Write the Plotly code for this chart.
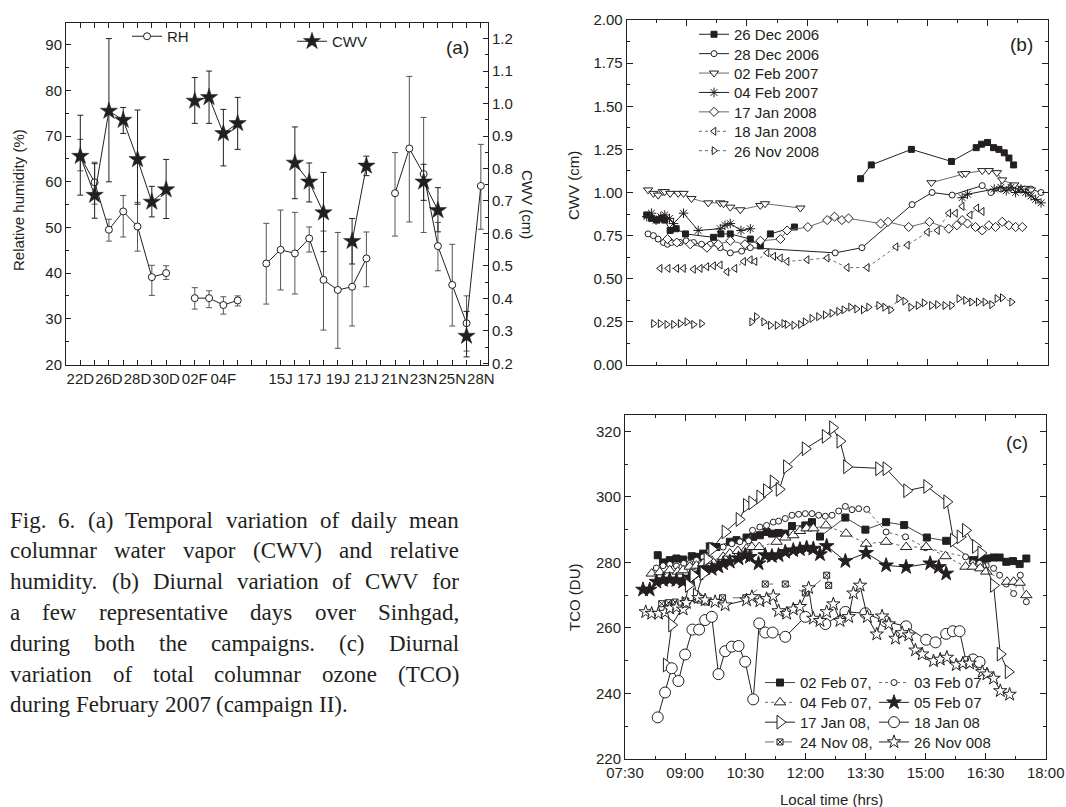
import plotly.graph_objects as go

# ------------------------------------------------------------------
# Panel (a): daily mean RH (left axis) and CWV (right axis)
# ------------------------------------------------------------------
day_index = list(range(1, 30))
day_ticks = [1, 3, 5, 7, 9, 11, 15, 17, 19, 21, 23, 25, 27, 29]
day_labels = ["22D", "26D", "28D", "30D", "02F", "04F", "15J", "17J",
              "19J", "21J", "21N", "23N", "25N", "28N"]

rh_mean = [65.5, 59.9, 49.5, 53.5, 50.2, 39.1, 40.0, None,
           34.5, 34.5, 33.0, 34.0, None,
           42.1, 45.1, 44.3, 47.6, 38.5, 36.3, 37.0, 43.2, None,
           57.5, 67.3, 61.7, 45.9, 37.4, 29.0, 59.1]
rh_err_plus = [3.8, 4.4, 2.3, 3.5, 5.3, 2.6, 1.6, 0,
               2.3, 1.6, 1.8, 1.0, 0,
               8.8, 8.7, 9.0, 2.5, 10.7, 12.6, 9.1, 5.8, 0,
               8.9, 15.8, 12.4, 5.2, 8.9, 6.0, 9.1]
rh_err_minus = [3.1, 4.8, 2.5, 5.6, 5.4, 4.0, 1.4, 0,
                2.4, 2.1, 2.0, 1.2, 0,
                8.9, 8.8, 8.9, 3.0, 11.0, 12.8, 8.6, 6.2, 0,
                9.4, 16.1, 12.8, 5.4, 9.0, 6.1, 9.5]

cwv_mean = [0.838, 0.718, 0.977, 0.949, 0.828, 0.697, 0.735, None,
            1.008, 1.019, 0.908, 0.939, None,
            None, None, 0.817, 0.759, 0.664, None, 0.576, 0.808, None,
            None, None, 0.759, 0.671, None, 0.284, None]
cwv_err_plus = [0.126, 0.097, 0.223, 0.039, 0.152, 0.048, 0.093, 0,
                0.072, 0.081, 0.074, 0.080, 0,
                0, 0, 0.111, 0.058, 0.124, 0, 0.070, 0.030, 0,
                0, 0, 0.054, 0.070, 0, 0.076, 0]
cwv_err_minus = [0.120, 0.071, 0.218, 0.041, 0.138, 0.046, 0.089, 0,
                 0.069, 0.080, 0.100, 0.080, 0,
                 0, 0, 0.110, 0.062, 0.120, 0, 0.070, 0.030, 0,
                 0, 0, 0.057, 0.066, 0, 0.064, 0]

# ------------------------------------------------------------------
# Panel (b): diurnal CWV (cm), (local time, value)
# ------------------------------------------------------------------
cwv_26dec2006 = [("08:00", 0.87), ("08:07", 0.85), ("08:15", 0.84), ("08:22", 0.85),
                 ("08:27", 0.84), ("08:35", 0.78), ("08:44", 0.79), ("08:58", 0.76),
                 ("09:40", 0.74), ("09:51", 0.76), ("10:05", 0.76), ("10:35", 0.73),
                 ("10:50", 0.69), ("11:05", 0.76), ("11:41", 0.80), (None, None),
                 ("13:20", 1.08), ("13:36", 1.16), ("14:36", 1.25), ("15:36", 1.18),
                 ("16:13", 1.26), ("16:21", 1.28), ("16:30", 1.29), ("16:39", 1.26),
                 ("16:47", 1.25), ("16:55", 1.23), ("17:02", 1.20), ("17:09", 1.16)]
cwv_28dec2006 = [("08:02", 0.76), ("08:10", 0.75), ("08:17", 0.73), ("08:25", 0.71),
                 ("08:31", 0.70), ("08:37", 0.71), ("08:50", 0.71), ("08:59", 0.72),
                 ("09:10", 0.71), ("09:22", 0.70), ("09:35", 0.70), ("09:50", 0.68),
                 ("10:05", 0.65), ("10:22", 0.66), ("10:35", 0.68), ("12:42", 0.65),
                 ("13:22", 0.68), ("14:37", 0.93), ("15:07", 1.00), ("15:37", 0.985),
                 ("16:22", 1.04), ("16:35", 1.00), ("16:50", 1.02), ("17:05", 1.03),
                 ("17:20", 1.02), ("17:35", 1.02), ("17:50", 1.00)]
cwv_02feb2007 = [("08:02", 1.015), ("08:10", 0.995), ("08:17", 0.985), ("08:24", 1.005),
                 ("08:27", 1.005), ("08:35", 0.995), ("08:47", 0.995), ("08:55", 0.995),
                 ("09:07", 0.965), ("09:32", 0.94), ("09:50", 0.94), ("09:55", 0.935),
                 ("10:05", 0.915), ("10:20", 0.90), ("10:50", 0.925), ("10:57", 0.935),
                 ("11:50", 0.91), (None, None),
                 ("15:06", 1.057), ("15:52", 1.108), ("15:57", 1.11), ("16:22", 1.127),
                 ("16:32", 1.127), ("16:44", 1.115), ("16:52", 1.073), ("17:10", 1.044),
                 ("17:25", 1.024), ("17:35", 1.015)]
cwv_04feb2007 = [("08:00", 0.86), ("08:07", 0.88), ("08:14", 0.84), ("08:21", 0.86),
                 ("08:27", 0.87), ("08:34", 0.85), ("08:40", 0.82), ("08:55", 0.88),
                 ("09:17", 0.78), ("09:50", 0.79), ("09:57", 0.81), ("10:05", 0.82),
                 ("10:21", 0.78), ("10:35", 0.79), (None, None),
                 ("15:52", 0.97), ("16:00", 0.99), ("16:40", 1.02), ("16:50", 1.03),
                 ("16:58", 1.01), ("17:05", 1.03), ("17:12", 1.00), ("17:20", 1.02),
                 ("17:27", 1.00), ("17:35", 0.98), ("17:42", 0.96), ("17:50", 0.94)]
cwv_17jan2008 = [("08:31", 0.73), ("08:45", 0.71), ("09:05", 0.70), ("09:30", 0.68),
                 ("09:47", 0.70), ("10:05", 0.72), ("10:27", 0.70), ("10:50", 0.72),
                 ("11:20", 0.73), ("11:30", 0.78), ("12:01", 0.80), ("12:30", 0.84),
                 ("12:41", 0.86), ("12:52", 0.84), ("13:02", 0.85), ("13:50", 0.82),
                 ("14:01", 0.83), ("14:32", 0.80), ("15:03", 0.83), ("15:32", 0.79),
                 ("15:44", 0.81), ("15:52", 0.84), ("16:00", 0.82), ("16:12", 0.80),
                 ("16:22", 0.78), ("16:32", 0.81), ("16:42", 0.80), ("16:52", 0.83),
                 ("17:02", 0.81), ("17:12", 0.80), ("17:22", 0.80)]
cwv_18jan2008 = [("08:20", 0.56), ("08:32", 0.56), ("08:45", 0.56), ("08:55", 0.56),
                 ("09:10", 0.555), ("09:20", 0.56), ("09:30", 0.57), ("09:40", 0.575),
                 ("09:50", 0.58), ("10:00", 0.54), ("10:12", 0.56), ("10:25", 0.60),
                 ("10:35", 0.61), ("10:42", 0.60), ("11:00", 0.65), ("11:10", 0.63),
                 ("11:20", 0.62), ("11:30", 0.60), ("12:00", 0.61), ("12:30", 0.62),
                 ("13:00", 0.565), ("13:30", 0.565), ("14:13", 0.685), ("14:30", 0.695),
                 ("15:00", 0.77), ("15:15", 0.78), ("15:32", 0.88), ("15:42", 0.88),
                 ("15:52", 0.92), ("16:04", 0.87), ("16:14", 0.91), ("16:22", 0.89)]
cwv_26nov2008 = [("08:10", 0.24), ("08:20", 0.24), ("08:30", 0.235), ("08:40", 0.235),
                 ("08:50", 0.24), ("09:00", 0.25), ("09:10", 0.235), ("09:22", 0.24),
                 (None, None),
                 ("10:37", 0.25), ("10:44", 0.28), ("10:55", 0.25), ("11:05", 0.23),
                 ("11:15", 0.23), ("11:25", 0.24), ("11:30", 0.235), ("11:40", 0.23),
                 ("11:50", 0.235), ("11:57", 0.25), ("12:07", 0.27), ("12:17", 0.28),
                 ("12:27", 0.29), ("12:37", 0.30), ("12:47", 0.31), ("12:55", 0.32),
                 ("13:05", 0.335), ("13:14", 0.325), ("13:24", 0.32), ("13:32", 0.335),
                 ("13:47", 0.345), ("13:56", 0.335), ("14:05", 0.32), ("14:17", 0.385),
                 ("14:26", 0.37), ("14:35", 0.335), ("14:46", 0.345), ("14:55", 0.36),
                 ("15:06", 0.345), ("15:15", 0.35), ("15:26", 0.345), ("15:36", 0.345),
                 ("15:47", 0.385), ("15:57", 0.375), ("16:06", 0.365), ("16:16", 0.365),
                 ("16:26", 0.365), ("16:36", 0.35), ("16:44", 0.385), ("16:52", 0.39),
                 ("17:06", 0.365)]

# ------------------------------------------------------------------
# Panel (c): diurnal TCO (DU), (local time, value)
# ------------------------------------------------------------------
tco_02feb07 = [("08:19", 282.2), ("08:27", 280.0), ("08:37", 280.7), ("08:47", 281.2),
               ("08:57", 280.9), ("09:10", 281.9), ("09:20", 281.7), ("09:27", 282.7),
               ("09:37", 284.9), ("09:47", 284.7), ("10:07", 286.3), ("10:17", 286.8),
               ("10:32", 287.6), ("10:42", 287.8), ("10:52", 288.3), ("11:02", 289.3),
               ("11:10", 288.8), ("11:20", 289.0), ("11:30", 288.8), ("11:40", 291.1),
               ("12:00", 291.3), ("12:10", 292.3), ("12:22", 287.9), ("13:00", 293.7),
               ("13:30", 290.0), ("14:01", 292.3), ("14:28", 291.4), ("15:02", 287.6),
               ("15:31", 286.6), ("16:11", 280.7), ("16:22", 280.9), ("16:32", 281.2),
               ("16:42", 281.5), ("16:51", 281.5), ("17:01", 280.2), ("17:11", 280.4),
               ("17:21", 279.5), ("17:31", 281.2)]
tco_03feb07 = [("08:17", 278.3), ("08:27", 279.0), ("08:37", 279.4), ("08:47", 278.9),
               ("08:58", 279.7), ("09:07", 279.7), ("09:17", 280.7), ("09:27", 281.7),
               ("09:37", 283.5), ("09:57", 284.7), ("10:10", 285.7), ("10:22", 286.3),
               ("10:35", 286.6), ("10:41", 289.8), ("10:52", 290.8), ("11:02", 291.3),
               ("11:12", 292.3), ("11:20", 292.6), ("11:30", 293.4), ("11:40", 294.4),
               ("11:50", 294.7), ("12:00", 294.9), ("12:10", 294.9), ("12:20", 294.4),
               ("12:30", 294.1), ("12:40", 294.4), ("12:50", 295.7), ("13:00", 297.1),
               ("13:10", 296.1), ("13:20", 296.4), ("13:32", 296.2), ("14:01", 289.3),
               ("14:30", 287.8), ("15:00", 284.5), ("16:00", 281.7), ("16:11", 279.9),
               ("16:21", 279.7), ("16:31", 279.0), ("16:42", 278.2), ("16:51", 276.1),
               ("17:01", 273.4), ("17:12", 270.5), ("17:22", 276.1), ("17:31", 268.0)]
tco_04feb07 = [("08:10", 276.6), ("08:22", 277.0), ("08:37", 277.6), ("08:49", 277.2),
               ("08:57", 277.6), ("09:07", 278.7), ("09:17", 279.0), ("09:27", 279.7),
               ("09:40", 280.5), ("09:57", 281.7), ("10:07", 282.7), ("10:19", 283.5),
               ("10:32", 284.2), ("10:40", 284.7), ("10:51", 284.7), ("11:17", 286.3),
               ("11:30", 287.6), ("11:42", 288.3), ("11:52", 289.6), ("12:02", 290.4),
               ("12:12", 290.4), ("12:31", 291.3), ("13:01", 288.8), ("13:31", 285.7),
               ("14:01", 286.3), ("14:31", 284.7), ("15:01", 284.7), ("15:30", 281.9),
               ("16:00", 278.7), ("16:11", 278.7), ("16:22", 278.2), ("16:31", 277.2),
               ("17:02", 274.1), ("17:12", 274.1), ("17:21", 273.8), ("17:31", 270.0)]
tco_05feb07 = [("07:57", 271.7), ("08:07", 271.7), ("08:17", 274.1), ("08:27", 274.6),
               ("08:37", 274.8), ("08:47", 274.6), ("08:57", 274.1), ("09:07", 275.4),
               ("09:20", 276.6), ("09:30", 278.2), ("09:40", 278.0), ("09:50", 278.7),
               ("09:57", 279.7), ("10:07", 280.2), ("10:20", 281.2), ("10:30", 282.2),
               ("10:37", 281.7), ("10:50", 279.7), ("11:00", 282.2), ("11:10", 281.9),
               ("11:20", 282.2), ("11:30", 283.2), ("11:42", 283.7), ("11:52", 284.0),
               ("12:02", 284.5), ("12:12", 284.2), ("12:22", 282.5), ("12:32", 285.0),
               ("13:00", 280.4), ("13:31", 282.9), ("14:01", 279.1), ("14:31", 278.6),
               ("15:07", 279.7), ("15:20", 278.6), ("15:31", 276.6)]
tco_17jan08 = [("08:32", 248.7), ("08:40", 260.9), ("09:00", 267.5), ("09:05", 273.0),
               ("09:12", 276.0), ("09:17", 270.0), ("09:27", 276.6), ("09:33", 281.0),
               ("09:40", 284.0), ("10:00", 289.3), ("10:21", 293.1), ("10:32", 297.4),
               ("10:40", 298.2), ("10:52", 300.0), ("11:02", 301.9), ("11:12", 304.6),
               ("11:21", 302.3), ("11:32", 309.2), ("12:00", 314.7), ("12:30", 318.5),
               ("12:41", 321.1), ("12:52", 317.0), ("13:02", 309.2), ("13:50", 308.6),
               ("14:01", 308.6), ("14:32", 301.9), ("15:02", 303.2), ("15:32", 298.5),
               ("15:42", 286.8), ("15:52", 287.8), ("16:00", 289.8), ("16:15", 284.9),
               ("16:23", 282.9), ("16:42", 273.0), ("16:52", 252.0), ("17:04", 246.6)]
tco_18jan08 = [("08:19", 232.7), ("08:30", 240.3), ("08:40", 247.7), ("08:50", 243.8),
               ("09:00", 251.9), ("09:11", 259.5), ("09:21", 259.5), ("09:30", 262.4),
               ("09:40", 263.4), ("09:50", 245.9), ("10:00", 252.9), ("10:10", 254.3),
               ("10:20", 254.5), ("10:30", 249.7), ("10:42", 238.2), ("10:51", 261.4),
               ("11:00", 258.6), ("11:11", 258.6), ("11:30", 257.3), ("12:00", 263.4),
               ("12:30", 261.2), ("13:00", 264.9), ("13:30", 264.5), ("14:00", 262.0),
               ("14:31", 260.5), ("15:01", 256.4), ("15:15", 255.6), ("15:31", 258.2),
               ("15:41", 259.0), ("15:51", 259.0), ("16:01", 249.6), ("16:11", 250.4),
               ("16:21", 249.6)]
tco_24nov08 = [("08:25", 267.4), ("08:35", 267.7), ("08:45", 267.9), ("09:01", 268.2),
               ("09:22", 268.5), ("09:32", 267.9), ("09:56", 269.2), ("10:31", 269.2),
               ("11:00", 273.4), ("11:30", 273.4), ("12:00", 270.7), ("12:32", 276.1),
               ("12:35", 273.0)]
tco_26nov08 = [("08:01", 264.9), ("08:10", 264.4), ("08:20", 264.4), ("08:30", 264.7),
               ("08:37", 266.0), ("08:47", 266.3), ("08:57", 265.7), ("09:02", 267.7),
               ("09:20", 269.2), ("09:30", 268.5), ("09:45", 268.0), ("10:00", 267.0),
               ("10:32", 268.5), ("10:40", 269.5), ("10:52", 268.2), ("11:02", 268.9),
               ("11:12", 269.7), ("11:20", 265.2), ("11:32", 264.4), ("11:42", 265.7),
               ("11:52", 266.5), ("12:05", 272.2), ("12:12", 262.9), ("12:22", 262.2),
               ("12:32", 264.9), ("12:42", 267.3), ("12:52", 262.2), ("13:05", 263.4),
               ("13:12", 270.6), ("13:22", 273.0), ("13:33", 263.4), ("13:47", 258.1),
               ("13:55", 263.6), ("14:05", 261.2), ("14:15", 256.8), ("14:25", 258.5),
               ("14:35", 257.8), ("14:45", 253.2), ("14:55", 252.0), ("15:12", 249.9),
               ("15:22", 250.4), ("15:32", 251.0), ("15:46", 248.7), ("15:56", 249.2),
               ("16:06", 249.2), ("16:25", 246.6), ("16:32", 245.9), ("16:42", 244.6),
               ("16:52", 240.8), ("17:06", 239.7)]

caption_lines = [
    "Fig. 6. (a) Temporal variation of daily mean",
    "columnar water vapor (CWV) and relative",
    "humidity. (b) Diurnal variation of CWV for",
    "a few representative days over Sinhgad,",
    "during both the campaigns. (c) Diurnal",
    "variation of total columnar ozone (TCO)",
    "during February 2007 (campaign II).",
]

# ------------------------------------------------------------------
# Styling helpers
# ------------------------------------------------------------------
W, H = 1066, 807
SANS = "Arial, 'Liberation Sans', sans-serif"
SERIF = "'Liberation Serif', 'Times New Roman', serif"
INK = "#231f20"
GREY = "#6a6a6a"


def fx(p):
    return p / W


def fy(p):
    return 1 - p / H


def clock(series):
    xs = [None if t is None else "2000-01-01 " + t for t, _ in series]
    ys = [v for _, v in series]
    return xs, ys


fig = go.Figure()
legend_boxes = {}   # legend id -> (left px, top px)
n_legends = [0]


def new_legend(left, top):
    n_legends[0] += 1
    lid = "legend" if n_legends[0] == 1 else "legend%d" % n_legends[0]
    legend_boxes[lid] = (left, top)
    return lid


# ---- (a)
fig.add_trace(go.Scatter(
    x=day_index, y=rh_mean, name="RH", mode="lines+markers",
    xaxis="x", yaxis="y", legend=new_legend(127, 20),
    line=dict(color=INK, width=1),
    marker=dict(symbol="circle", size=7, color="white", line=dict(color=INK, width=1)),
    error_y=dict(type="data", symmetric=False, array=rh_err_plus,
                 arrayminus=rh_err_minus, color="#555555", thickness=1, width=3),
))
fig.add_trace(go.Scatter(
    x=day_index, y=cwv_mean, name="CWV", mode="lines+markers",
    xaxis="x", yaxis="y2", legend=new_legend(292, 25),
    line=dict(color=INK, width=1),
    marker=dict(symbol="star", size=13, color=INK, line=dict(color=INK, width=0.5)),
    error_y=dict(type="data", symmetric=False, array=cwv_err_plus,
                 arrayminus=cwv_err_minus, color=INK, thickness=1, width=3),
))

# ---- (b)
b_series = [
    ("26 Dec 2006", cwv_26dec2006, "square", 6, INK, INK, "solid"),
    ("28 Dec 2006", cwv_28dec2006, "circle", 6, "white", INK, "solid"),
    ("02 Feb 2007", cwv_02feb2007, "triangle-down", 8, "white", GREY, "solid"),
    ("04 Feb 2007", cwv_04feb2007, "asterisk-open", 8, INK, INK, "solid"),
    ("17 Jan 2008", cwv_17jan2008, "diamond", 7, "white", GREY, "solid"),
    ("18 Jan 2008", cwv_18jan2008, "triangle-left", 7, "white", GREY, "dot"),
    ("26 Nov 2008", cwv_26nov2008, "triangle-right", 7, "white", GREY, "dot"),
]
for i, (name, series, sym, size, fill, lcol, dash) in enumerate(b_series):
    xs, ys = clock(series)
    fig.add_trace(go.Scatter(
        x=xs, y=ys, name=name, mode="lines+markers",
        xaxis="x2", yaxis="y3", legend=new_legend(694, 18 + 19.4 * i),
        line=dict(color=lcol, width=1, dash=dash),
        marker=dict(symbol=sym, size=size, color=fill, line=dict(color=INK, width=1)),
    ))

# ---- (c)  two-column key: left column ends with a comma
c_series = [
    ("02 Feb 07,", tco_02feb07, "square", 7, INK, "#444444", "solid"),
    ("03 Feb 07", tco_03feb07, "circle", 6, "white", GREY, "dot"),
    ("04 Feb 07,", tco_04feb07, "triangle-up", 10, "white", GREY, "dot"),
    ("05 Feb 07", tco_05feb07, "star", 11, INK, INK, "solid"),
    ("17 Jan 08,", tco_17jan08, "triangle-right", 12, "white", INK, "solid"),
    ("18 Jan 08", tco_18jan08, "circle", 11, "white", INK, "solid"),
    ("24 Nov 08,", tco_24nov08, "square-x", 6, "white", GREY, "dash"),
    ("26 Nov 008", tco_26nov08, "star", 10, "white", INK, "solid"),
]
for i, (name, series, sym, size, fill, lcol, dash) in enumerate(c_series):
    xs, ys = clock(series)
    row, col = divmod(i, 2)
    fig.add_trace(go.Scatter(
        x=xs, y=ys, name=name, mode="lines+markers",
        xaxis="x3", yaxis="y4", legend=new_legend(760 + 114 * col, 666.3 + 19.8 * row),
        line=dict(color=lcol, width=1, dash=dash),
        marker=dict(symbol=sym, size=size, color=fill, line=dict(color=INK, width=1)),
    ))

# ------------------------------------------------------------------
# Axes
# ------------------------------------------------------------------
tickfont = dict(family=SANS, size=15, color=INK)
base = dict(showline=True, linecolor=INK, linewidth=1, ticks="inside", ticklen=5,
            tickwidth=1, tickcolor=INK, showgrid=False, zeroline=False,
            tickfont=tickfont)

T0, T1 = "2000-01-01 07:30", "2000-01-01 18:00"
H90 = 90 * 60 * 1000
H45 = 45 * 60 * 1000

layout = dict(
    width=W, height=H, autosize=False, showlegend=True,
    margin=dict(l=0, r=0, t=0, b=0, pad=0, autoexpand=False),
    paper_bgcolor="white", plot_bgcolor="white",
    font=dict(family=SANS, size=15, color=INK),
    xaxis=dict(base, domain=[fx(66), fx(488)], anchor="y", range=[0, 29.5],
               tickmode="array", tickvals=day_ticks, ticktext=day_labels,
               tickangle=0, mirror="ticks",
               minor=dict(tickmode="array", tickvals=list(range(0, 30)),
                          ticks="inside", ticklen=5, tickcolor=INK)),
    yaxis=dict(base, domain=[fy(365), fy(23)], anchor="x", range=[19.85, 94.8],
               tick0=20, dtick=10, mirror=False,
               minor=dict(dtick=5, ticks="inside", ticklen=3, tickcolor=INK)),
    yaxis2=dict(base, overlaying="y", side="right", anchor="x",
                range=[0.195, 1.248], tick0=0.2, dtick=0.1, tickformat=".1f",
                minor=dict(dtick=0.05, ticks="inside", ticklen=3, tickcolor=INK)),
    xaxis2=dict(base, type="date", domain=[fx(626.7), fx(1047.7)], anchor="y3",
                range=[T0, T1], tick0=T0, dtick=H90, ticklen=6, mirror="ticks",
                showticklabels=False,
                minor=dict(dtick=H45, ticks="inside", ticklen=3, tickcolor=INK)),
    yaxis3=dict(base, domain=[fy(365), fy(20)], anchor="x2", range=[0, 2.0],
                dtick=0.25, tickformat=".2f", ticklen=6, mirror="ticks",
                minor=dict(dtick=0.125, ticks="inside", ticklen=3, tickcolor=INK)),
    xaxis3=dict(base, type="date", domain=[fx(625), fx(1045.7)], anchor="y4",
                range=[T0, T1], tick0=T0, dtick=H90, tickformat="%H:%M",
                ticklen=6, mirror="ticks",
                minor=dict(dtick=H45, ticks="inside", ticklen=3, tickcolor=INK)),
    yaxis4=dict(base, domain=[fy(759), fy(415)], anchor="x3", range=[220, 325],
                tick0=220, dtick=20, ticklen=6, mirror="ticks",
                minor=dict(dtick=10, ticks="inside", ticklen=3, tickcolor=INK)),
)

legend_base = dict(bgcolor="rgba(0,0,0,0)", borderwidth=0, xref="paper", yref="paper",
                   xanchor="left", yanchor="top",
                   font=dict(family=SANS, size=15, color=INK),
                   itemclick=False, itemdoubleclick=False, tracegroupgap=0)
for lid, (left, top) in legend_boxes.items():
    layout[lid] = dict(legend_base, x=fx(left), y=fy(top))

fig.update_layout(**layout)

# ------------------------------------------------------------------
# Text: axis titles, panel tags
# ------------------------------------------------------------------
ann = []


def label(text, x, y, size=15, angle=0, family=SANS):
    ann.append(dict(text=text, x=fx(x), y=fy(y), xref="paper", yref="paper",
                    showarrow=False, xanchor="center", yanchor="middle",
                    textangle=angle, font=dict(family=family, size=size, color=INK)))


label("Relative humidity (%)", 18, 200, angle=-90)
label("CWV (cm)", 527, 204, angle=90)
label("CWV (cm)", 574, 186, angle=-90)
label("TCO (DU)", 574, 597, angle=-90)
label("Local time (hrs)", 831, 799)
label("(a)", 457, 47, size=19)
label("(b)", 1021, 44, size=19)
label("(c)", 1017, 443, size=19)

# ---- justified caption set in Times metrics
TIMES = {" ": 250, ".": 250, ",": 250, "(": 333, ")": 333, "-": 333,
         "0": 500, "1": 500, "2": 500, "3": 500, "4": 500, "5": 500, "6": 500,
         "7": 500, "8": 500, "9": 500,
         "A": 722, "B": 667, "C": 667, "D": 722, "E": 611, "F": 556, "G": 722,
         "H": 722, "I": 333, "O": 722, "S": 556, "T": 611, "V": 722, "W": 944,
         "a": 444, "b": 500, "c": 444, "d": 500, "e": 444, "f": 333, "g": 500,
         "h": 500, "i": 278, "j": 278, "k": 500, "l": 278, "m": 778, "n": 500,
         "o": 500, "p": 500, "q": 500, "r": 333, "s": 389, "t": 278, "u": 500,
         "v": 500, "w": 722, "x": 500, "y": 500, "z": 444}
CAP_SIZE = 23
CAP_LEFT, CAP_RIGHT = 9, 458
CAP_TOP, CAP_STEP = 520, 30.8


def word_width(w):
    return sum(TIMES.get(ch, 500) for ch in w) * CAP_SIZE / 1000.0


for i, line in enumerate(caption_lines):
    words = line.split()
    widths = [word_width(w) for w in words]
    last = i == len(caption_lines) - 1
    if last or len(words) == 1:
        gap = TIMES[" "] * CAP_SIZE / 1000.0
    else:
        gap = (CAP_RIGHT - CAP_LEFT - sum(widths)) / (len(words) - 1)
    xpos = CAP_LEFT
    for w, wd in zip(words, widths):
        ann.append(dict(text=w, x=fx(xpos), y=fy(CAP_TOP + i * CAP_STEP),
                        xref="paper", yref="paper", showarrow=False,
                        xanchor="left", yanchor="middle", borderpad=0,
                        font=dict(family=SERIF, size=CAP_SIZE, color=INK)))
        xpos += wd + gap

fig.update_layout(annotations=ann)

fig.write_html("out.html")
